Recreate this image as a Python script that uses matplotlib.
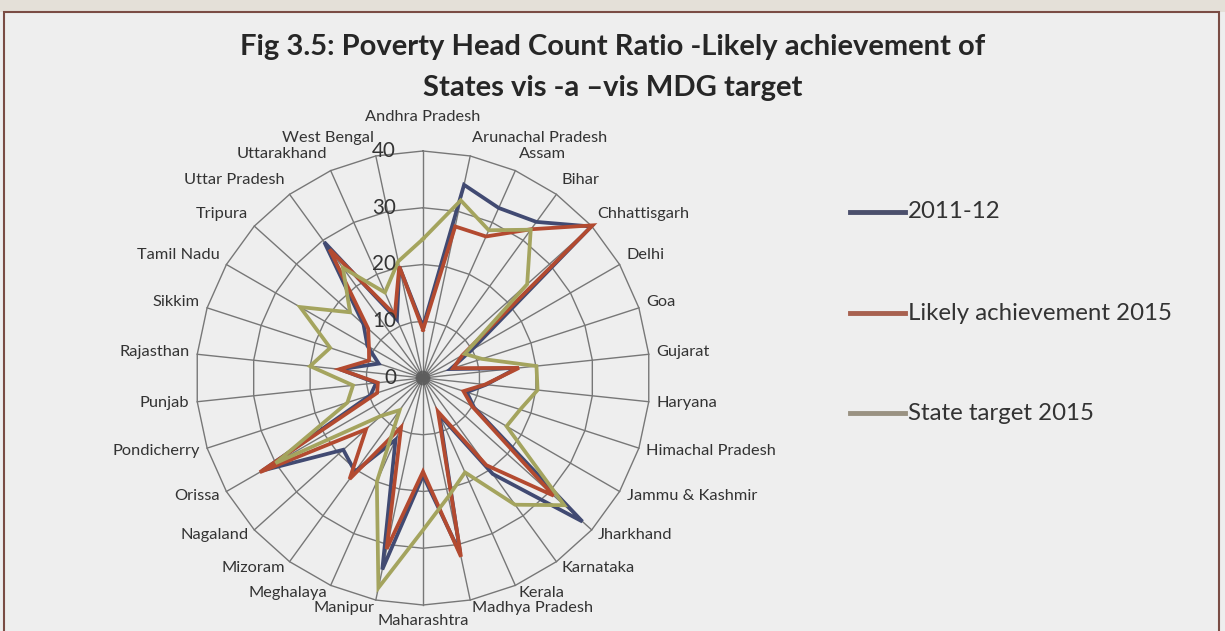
import numpy as np
import matplotlib
matplotlib.use("Agg")
import matplotlib.pyplot as plt
from matplotlib.patches import Rectangle, Circle
from matplotlib.lines import Line2D

# ---------------- data ----------------
states = ["Andhra Pradesh", "Arunachal Pradesh", "Assam", "Bihar", "Chhattisgarh",
          "Delhi", "Goa", "Gujarat", "Haryana", "Himachal Pradesh",
          "Jammu & Kashmir", "Jharkhand", "Karnataka", "Kerala", "Madhya Pradesh",
          "Maharashtra", "Manipur", "Meghalaya", "Mizoram", "Nagaland",
          "Orissa", "Pondicherry", "Punjab", "Rajasthan", "Sikkim",
          "Tamil Nadu", "Tripura", "Uttar Pradesh", "Uttarakhand", "West Bengal"]

series_names = ["2011-12", "Likely achievement 2015", "State target 2015"]

hcr_2011_12 = [9.0, 34.8, 32.8, 34.0, 39.9,
               9.9, 5.1, 16.6, 11.2, 8.1,
               10.4, 37.8, 20.9, 7.1, 31.6,
               17.2, 34.5, 11.9, 20.4, 18.9,
               32.6, 9.7, 8.3, 14.7, 8.2,
               11.3, 14.1, 29.6, 11.3, 20.0]

likely_2015 = [8.5, 27.3, 27.3, 32.4, 40.2,
               8.0, 5.6, 17.0, 11.0, 7.5,
               10.0, 31.0, 19.0, 6.5, 32.2,
               16.5, 30.8, 9.5, 22.0, 13.5,
               33.2, 8.5, 8.0, 14.8, 10.0,
               11.0, 13.0, 28.0, 12.2, 20.1]

target_2015 = [24.5, 32.0, 28.5, 32.3, 24.7,
               8.5, 10.9, 20.1, 20.3, 18.0,
               17.0, 33.5, 27.6, 18.2, 21.4,
               26.8, 37.8, 20.0, 7.0, 10.0,
               30.0, 14.0, 12.4, 20.0, 17.2,
               25.0, 17.3, 24.0, 16.5, 21.0]

rticks = [0, 10, 20, 30, 40]
title_lines = ["Fig 3.5: Poverty Head Count Ratio -Likely achievement of",
               "States vis -a \u2013vis MDG target"]

# ---------------- style ----------------
W, H, DPI = 1225, 631, 100
BG = "#eeeeee"
GRID = "#777777"
TXT = "#333333"
colors = ["#414a72", "#b34a30", "#a4a45e"]
legend_colors = ["#4b4f6c", "#a8614f", "#9a9282"]
FONT = "Lato"

fig = plt.figure(figsize=(W / DPI, H / DPI), dpi=DPI, facecolor=BG)
renderer = fig.canvas.get_renderer()

# page strip + border frame
fig.patches.append(Rectangle((0, 1 - 12 / H), 1, 12 / H, transform=fig.transFigure,
                             facecolor="#e4e0d8", edgecolor="none", zorder=0))
fig.patches.append(Rectangle((4 / W, -0.01), (1219 - 4) / W, 1.01 - 12 / H,
                             transform=fig.transFigure, facecolor="none",
                             edgecolor="#7a4c44", linewidth=1.5, zorder=1))

CX, CY, R = 423, 378, 227
RMAX = rticks[-1]
ax = fig.add_axes([(CX - R) / W, (H - CY - R) / H, 2 * R / W, 2 * R / H])
ax.set_xlim(-RMAX, RMAX)
ax.set_ylim(-RMAX, RMAX)
ax.axis("off")
px = RMAX / R  # data units per pixel

n = len(states)
theta = np.deg2rad(np.arange(n) * 360.0 / n)
sx, cy_ = np.sin(theta), np.cos(theta)

# gridline polygons
for r in rticks[1:]:
    ax.plot(np.append(r * sx, r * sx[0]), np.append(r * cy_, r * cy_[0]),
            color=GRID, lw=1.0, zorder=1, clip_on=False)
# spokes
for k in range(n):
    ax.plot([0, RMAX * sx[k]], [0, RMAX * cy_[k]], color=GRID, lw=1.0, zorder=1,
            clip_on=False)
ax.add_patch(Circle((0, 0), 1.3, color="#555555", alpha=0.75, zorder=1.5, lw=0))


def fit_size(txt, target_w, weight="normal", base=20):
    t = fig.text(0, 0, txt, fontsize=base, family=FONT, weight=weight)
    w = t.get_window_extent(renderer).width
    t.remove()
    return base * target_w / w


# series
for vals, col in zip([hcr_2011_12, likely_2015, target_2015], colors):
    v = np.array(vals)
    ax.plot(np.append(v * sx, v[0] * sx[0]), np.append(v * cy_, v[0] * cy_[0]),
            color=col, lw=2.7, solid_joinstyle="miter", zorder=3, clip_on=False)

# tick labels
tick_fs = fit_size("40", 24)
for r in rticks:
    ax.text(-27 * px, r, str(r), ha="right", va="center", fontsize=tick_fs,
            family=FONT, color=TXT, zorder=4)

# category labels
lab_fs = fit_size("Arunachal Pradesh", 135)
g = 8 * px
for k, name in enumerate(states):
    s, c = sx[k], cy_[k]
    x = RMAX * s + s * g
    y = RMAX * c + c * g + (c * 10 * px if c > 0 else 0)
    if abs(s) < 0.05:
        ha = "center"
        y = RMAX + 34 * px if c > 0 else -RMAX - 16 * px
    else:
        ha = "left" if s > 0 else "right"
    ax.text(x, y, name, ha=ha, va="center", fontsize=lab_fs, family=FONT,
            color=TXT, zorder=4)

# title
t_fs = fit_size(title_lines[0], 744, weight="bold")
fig.text(613 / W, 1 - 47 / H, title_lines[0], ha="center", va="center",
         fontsize=t_fs, family=FONT, weight="bold", color="#262626")
fig.text(613 / W, 1 - 88 / H, title_lines[1], ha="center", va="center",
         fontsize=t_fs, family=FONT, weight="bold", color="#262626")

# legend
leg_fs = fit_size(series_names[1], 265)
for name, col, ypx in zip(series_names, legend_colors, [212, 313, 413]):
    fig.lines.append(Line2D([850 / W, 905 / W], [1 - ypx / H, 1 - ypx / H],
                            transform=fig.transFigure, color=col, lw=3.5))
    fig.text(908 / W, 1 - ypx / H, name, ha="left", va="center", fontsize=leg_fs,
             family=FONT, color=TXT)

fig.savefig("out.png", dpi=DPI, facecolor=BG)
